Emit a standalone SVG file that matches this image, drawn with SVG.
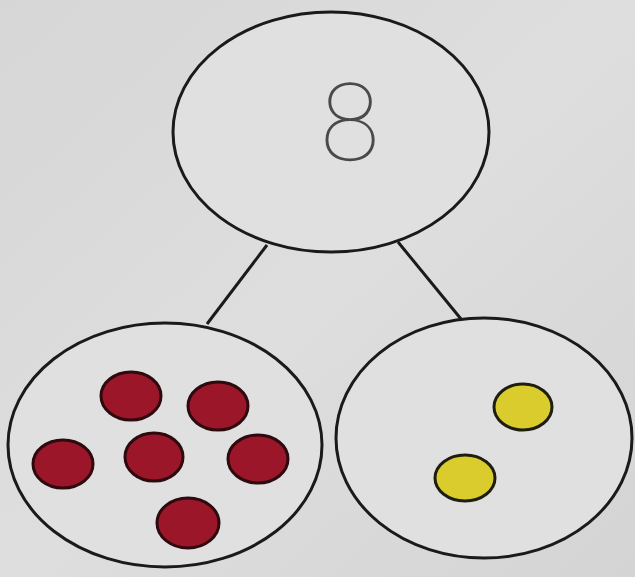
<svg xmlns="http://www.w3.org/2000/svg" width="635" height="577" viewBox="0 0 635 577">
  <defs>
    <linearGradient id="paper" x1="0" y1="0" x2="1" y2="1">
      <stop offset="0" stop-color="#d6d6d6"/>
      <stop offset="0.5" stop-color="#dedede"/>
      <stop offset="1" stop-color="#d4d4d4"/>
    </linearGradient>
  </defs>
  <style>
    .bond { fill: #e0e0e0; stroke: #1a1a1a; stroke-width: 3; }
    .link { stroke: #1a1a1a; stroke-width: 3; fill: none; }
    .red { fill: #9a1628; stroke: #2e0a0e; stroke-width: 3; }
    .yellow { fill: #d9cc2c; stroke: #1e1e10; stroke-width: 3; }
    .num { font-family: Lato, "DejaVu Sans", sans-serif; font-weight: 100; font-size: 108px; fill: #4a4a4a; stroke: #4a4a4a; stroke-width: 1.6; }
  </style>
  <rect width="635" height="577" fill="url(#paper)"/>
  <g id="connectors">
    <line class="link" x1="267" y1="245" x2="207" y2="324"/>
    <line class="link" x1="398" y1="242" x2="461" y2="319"/>
  </g>
  <g id="whole">
    <ellipse class="bond" cx="331" cy="132" rx="158" ry="120"/>
    <text class="num" x="350" y="160" text-anchor="middle">8</text>
  </g>
  <g id="part-left">
    <ellipse class="bond" cx="165" cy="445" rx="157" ry="122"/>
    <ellipse class="red" cx="131" cy="396" rx="30" ry="24"/>
    <ellipse class="red" cx="218" cy="406" rx="30" ry="24"/>
    <ellipse class="red" cx="63" cy="464" rx="30" ry="24"/>
    <ellipse class="red" cx="154" cy="457" rx="29" ry="24"/>
    <ellipse class="red" cx="258" cy="459" rx="30" ry="24"/>
    <ellipse class="red" cx="188" cy="523" rx="31" ry="25"/>
  </g>
  <g id="part-right">
    <ellipse class="bond" cx="484" cy="438" rx="148" ry="120"/>
    <ellipse class="yellow" cx="523" cy="407" rx="29" ry="23"/>
    <ellipse class="yellow" cx="465" cy="478" rx="30" ry="23"/>
  </g>
</svg>
